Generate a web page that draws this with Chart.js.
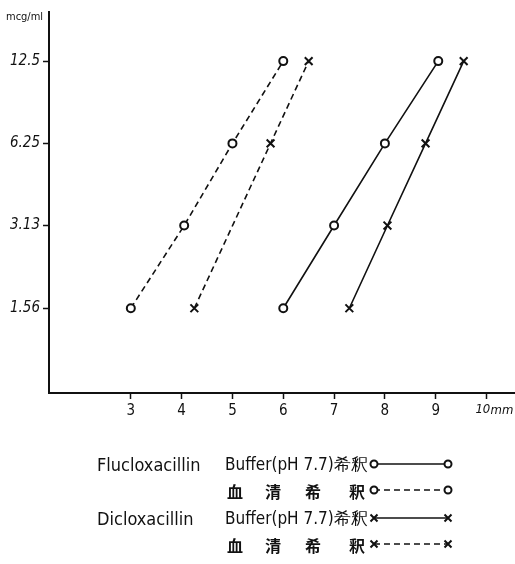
<!DOCTYPE html>
<html>
<head>
<meta charset="utf-8">
<script src="https://cdn.jsdelivr.net/npm/chart.js@4"></script>
<style>
  html, body { margin: 0; padding: 0; background: #fff; }
  #wrap { position: relative; width: 515px; height: 564px; }
</style>
</head>
<body>
<div id="wrap"><canvas id="chart" width="515" height="564"></canvas></div>
<script>
// MIC (mcg/ml) levels on the y axis
var concLevels = [1.56, 3.13, 6.25, 12.5];
// zone diameter (mm), one per concentration
var fluBufferZone = [6.0, 7.0, 8.0, 9.05];
var fluSerumZone = [3.0, 4.05, 5.0, 6.0];
var dicBufferZone = [7.3, 8.05, 8.8, 9.55];
var dicSerumConc = [1.56, 6.25, 12.5];
var dicSerumZone = [4.25, 5.75, 6.5];
var xTickValues = [3, 4, 5, 6, 7, 8, 9, 10];

var drugNames = ['Flucloxacillin', 'Dicloxacillin'];
var bufferLabel = 'Buffer(pH 7.7)希釈';
var serumChars = ['血', '清', '希', '釈'];

var FONT = '"DejaVu Sans Condensed", "Liberation Sans Narrow", sans-serif';

function pts(xs, ys) {
  return xs.map(function(x, i) { return { x: x, y: ys[i] }; });
}

function series(label, data, style, dashed) {
  return {
    label: label,
    data: data,
    showLine: true,
    borderColor: '#111',
    borderWidth: 1.6,
    borderDash: dashed ? [6, 4] : [],
    pointStyle: style,
    pointRadius: style === 'circle' ? 4 : 5.5,
    pointBorderWidth: 2,
    pointBackgroundColor: '#fff',
    pointBorderColor: '#111',
    tension: 0
  };
}

// legend + axis unit text drawn on the canvas
var extraText = {
  id: 'extraText',
  afterDraw: function(chart) {
    var ctx = chart.ctx;
    var xs = chart.scales.x;
    ctx.save();
    ctx.fillStyle = '#111';
    ctx.strokeStyle = '#111';
    ctx.textBaseline = 'middle';

    // y unit
    ctx.font = '11px ' + FONT;
    ctx.textAlign = 'left';
    ctx.fillText('mcg/ml', 6, 17);

    // x unit
    ctx.font = 'italic 13px ' + FONT;
    ctx.fillText('mm', xs.getPixelForValue(10) + 4, 411);

    var rows = [466, 492, 520, 546];
    ctx.font = '18px ' + FONT;
    ctx.fillText(drugNames[0], 97, rows[0]);
    ctx.fillText(drugNames[1], 97, rows[2]);

    ctx.font = '17px ' + FONT;
    ctx.fillText(bufferLabel, 225, rows[0]);
    ctx.fillText(bufferLabel, 225, rows[2]);

    ctx.font = 'bold 16px "Noto Sans CJK JP", sans-serif';
    ctx.textAlign = 'center';
    var cx = [235, 273, 313, 357];
    [rows[1], rows[3]].forEach(function(y) {
      serumChars.forEach(function(c, i) { ctx.fillText(c, cx[i], y); });
    });

    // samples
    function sample(y, style, dashed) {
      var x0 = 374, x1 = 448;
      ctx.lineWidth = 1.6;
      ctx.setLineDash(dashed ? [6, 4] : []);
      ctx.beginPath();
      ctx.moveTo(x0, y); ctx.lineTo(x1, y); ctx.stroke();
      ctx.setLineDash([]);
      ctx.lineWidth = 2;
      [x0, x1].forEach(function(x) {
        if (style === 'circle') {
          ctx.beginPath();
          ctx.arc(x, y, 3.5, 0, Math.PI * 2);
          ctx.fillStyle = '#fff'; ctx.fill(); ctx.stroke();
        } else {
          ctx.beginPath();
          ctx.moveTo(x - 3.5, y - 3.5); ctx.lineTo(x + 3.5, y + 3.5);
          ctx.moveTo(x + 3.5, y - 3.5); ctx.lineTo(x - 3.5, y + 3.5);
          ctx.stroke();
        }
      });
    }
    sample(rows[0] - 2, 'circle', false);
    sample(rows[1] - 2, 'circle', true);
    sample(rows[2] - 2, 'crossRot', false);
    sample(rows[3] - 2, 'crossRot', true);
    ctx.restore();
  }
};

new Chart(document.getElementById('chart'), {
  type: 'scatter',
  data: {
    datasets: [
      series('Flucloxacillin Buffer', pts(fluBufferZone, concLevels), 'circle', false),
      series('Flucloxacillin 血清', pts(fluSerumZone, concLevels), 'circle', true),
      series('Dicloxacillin Buffer', pts(dicBufferZone, concLevels), 'crossRot', false),
      series('Dicloxacillin 血清', pts(dicSerumZone, dicSerumConc), 'crossRot', true)
    ]
  },
  options: {
    responsive: false,
    animation: false,
    layout: { autoPadding: false, padding: { top: 12, right: 0, left: 0, bottom: 0 } },
    plugins: { legend: { display: false }, tooltip: { enabled: false } },
    scales: {
      x: {
        type: 'linear',
        min: 1.39,
        max: 10.56,
        afterBuildTicks: function(s) {
          s.ticks = xTickValues.map(function(v) { return { value: v }; });
        },
        afterFit: function(s) { s.height = 171; s.paddingLeft = 0; s.paddingRight = 0; },
        ticks: {
          color: '#111', padding: 3, maxRotation: 0,
          font: function(c) {
            return c.tick && c.tick.value === 10
              ? { family: FONT, size: 13, style: 'italic' }
              : { family: FONT, size: 15 };
          },
          // trailing spaces push the last label left so the unit fits after it
          callback: function(v) { return v === 10 ? '10  ' : String(v); }
        },
        grid: { drawOnChartArea: false, color: '#111', tickLength: 6, tickWidth: 1.5 },
        border: { color: '#111', width: 2 }
      },
      y: {
        type: 'logarithmic',
        min: 0.764,
        max: 18.9,
        afterBuildTicks: function(s) { s.ticks = concLevels.map(function(v) { return { value: v }; }); },
        afterFit: function(s) { s.width = 49; s.paddingTop = 0; s.paddingBottom = 0; },
        ticks: { color: '#111', font: { family: FONT, size: 15, style: 'italic' }, padding: 3,
                 callback: function(v) { return String(v); } },
        grid: { drawOnChartArea: false, color: '#111', tickLength: 6, tickWidth: 1.5 },
        border: { color: '#111', width: 2 }
      }
    }
  },
  plugins: [extraText]
});
</script>
</body>
</html>
